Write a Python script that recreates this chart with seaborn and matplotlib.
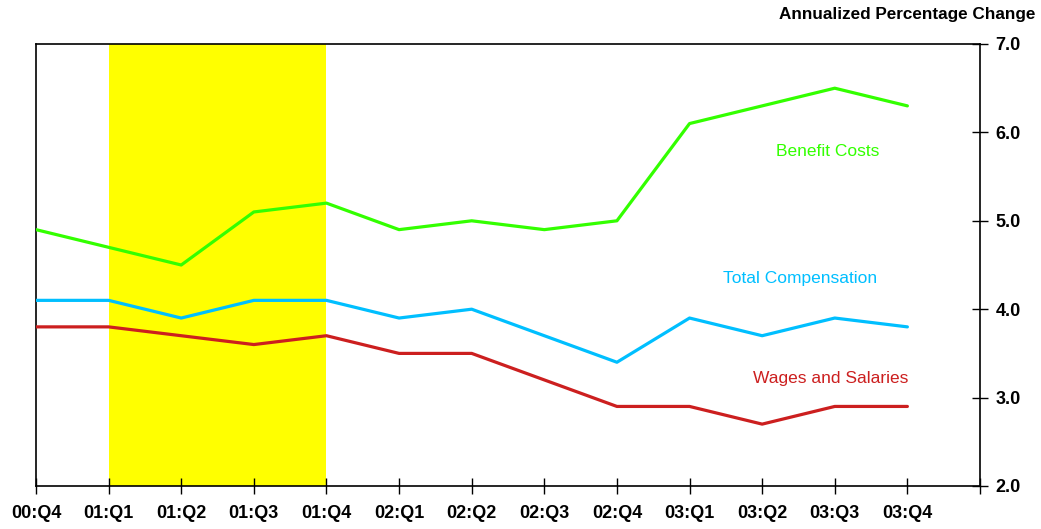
import matplotlib
matplotlib.use("Agg")
import matplotlib.pyplot as plt
from matplotlib import font_manager
import seaborn as sns
import pandas as pd

quarters = ["00:Q4", "01:Q1", "01:Q2", "01:Q3", "01:Q4", "02:Q1", "02:Q2",
            "02:Q3", "02:Q4", "03:Q1", "03:Q2", "03:Q3", "03:Q4"]
benefit_costs = [4.9, 4.7, 4.5, 5.1, 5.2, 4.9, 5.0, 4.9, 5.0, 6.1, 6.3, 6.5, 6.3]
total_compensation = [4.1, 4.1, 3.9, 4.1, 4.1, 3.9, 4.0, 3.7, 3.4, 3.9, 3.7, 3.9, 3.8]
wages_salaries = [3.8, 3.8, 3.7, 3.6, 3.7, 3.5, 3.5, 3.2, 2.9, 2.9, 2.7, 2.9, 2.9]
series_names = ["Benefit Costs", "Total Compensation", "Wages and Salaries"]
series_colors = ["#33FF00", "#00BFFF", "#CC1F1F"]
recession = (1, 4)  # 01:Q1 through 01:Q4
y_ticks = [2.0, 3.0, 4.0, 5.0, 6.0, 7.0]

sns.set_theme(style="white")
plt.rcParams["font.family"] = ["Liberation Sans", "DejaVu Sans"]
plt.rcParams["text.color"] = "black"


def liberation(weight):
    """Pick the full-width Liberation Sans file for the given weight."""
    for f in font_manager.fontManager.ttflist:
        if f.name == "Liberation Sans" and f.style == "normal" and f.weight == weight:
            return font_manager.FontProperties(fname=f.fname)
    raise RuntimeError("Liberation Sans %s not found" % weight)


font_reg = liberation(400)
font_bold = liberation(700)

rows = []
for name, vals in zip(series_names, [benefit_costs, total_compensation, wages_salaries]):
    for i, v in enumerate(vals):
        rows.append({"idx": i, "value": v, "series": name})
df = pd.DataFrame(rows)

fig = plt.figure(figsize=(10.41, 5.29), dpi=100)
ax = fig.add_axes([36 / 1041, 1 - 486 / 529, (980 - 36) / 1041, (486 - 44) / 529])

ax.axvspan(recession[0], recession[1], color="#FFFF00", lw=0, zorder=0)

sns.lineplot(data=df, x="idx", y="value", hue="series", hue_order=series_names,
             palette=series_colors, linewidth=2.3, legend=False, ax=ax, zorder=3)

ax.set_xlim(0, len(quarters))
ax.set_ylim(2.0, 7.0)
ax.set_xticks(range(len(quarters) + 1))
ax.set_xticklabels(quarters + [""], fontproperties=font_bold, fontsize=13)
ax.set_yticks(y_ticks)
ax.set_yticklabels([f"{t:.1f}" for t in y_ticks], fontproperties=font_bold, fontsize=13)
ax.yaxis.tick_right()
ax.tick_params(axis="x", bottom=True, top=False)
ax.tick_params(axis="y", left=False, right=True)
ax.tick_params(axis="both", direction="inout", length=12, width=1, color="black",
               labelcolor="black")
ax.tick_params(axis="x", pad=8)
ax.tick_params(axis="y", pad=5)
ax.set_xlabel("")
ax.set_ylabel("")
for side in ["top", "bottom", "left", "right"]:
    ax.spines[side].set_visible(True)
    ax.spines[side].set_color("black")
    ax.spines[side].set_linewidth(1.2)

labels = [("Benefit Costs", 10.9, 5.78), ("Total Compensation", 10.52, 4.35),
          ("Wages and Salaries", 10.95, 3.22)]
for (text, lx, ly), col in zip(labels, series_colors):
    ax.text(lx, ly, text, color=col, fontproperties=font_reg, fontsize=12.5,
            ha="center", va="center")

fig.text(1035 / 1041, 1 - 15 / 529, "Annualized Percentage Change", ha="right",
         va="center", color="black", fontproperties=font_bold, fontsize=12.3)

fig.savefig("out.png", dpi=100)
